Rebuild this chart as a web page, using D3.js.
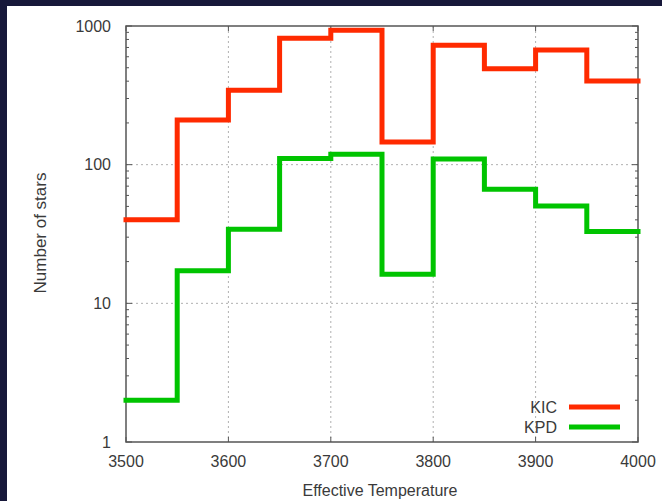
<!DOCTYPE html>
<html>
<head>
<meta charset="utf-8">
<script src="https://cdn.jsdelivr.net/npm/d3@7"></script>
<style>
body { margin: 0; background: #16183a; }
svg { display: block; }
</style>
</head>
<body>
<svg id="chart" width="662" height="501"></svg>
<script>
// histogram bins (left edges, K) and counts
var binStarts = [3500, 3550, 3600, 3650, 3700, 3750, 3800, 3850, 3900, 3950];
var binEnd = 4000;
var kicCounts = [40, 210, 344, 815, 931, 146, 725, 492, 671, 401];
var kpdCounts = [2.0, 17.2, 34.2, 111, 119, 16.2, 110, 66.4, 50.3, 32.9];
var xTicks = [3500, 3600, 3700, 3800, 3900, 4000];
var yTicks = [1, 10, 100, 1000];
var seriesNames = ["KIC", "KPD"];
var seriesColors = ["#ff2a00", "#00c400"];

var svg = d3.select("#chart");
var margin = {top: 26, right: 24, bottom: 59, left: 126};
var width = 662 - margin.left - margin.right,
    height = 501 - margin.top - margin.bottom;

// dark backdrop + white panel
svg.append("rect").attr("width", 662).attr("height", 501).attr("fill", "#17183a");
svg.append("rect").attr("x", 7).attr("y", 6).attr("width", 655).attr("height", 495).attr("fill", "#fff");

var g = svg.append("g").attr("transform", "translate(" + margin.left + "," + margin.top + ")");

var x = d3.scaleLinear().domain([3500, 4000]).range([0, width]);
var y = d3.scaleLog().domain([1, 1000]).range([height, 0]);

// gridlines
g.append("g").selectAll("line")
    .data(xTicks.slice(1, -1)).enter().append("line")
    .attr("x1", function(d) { return x(d); }).attr("x2", function(d) { return x(d); })
    .attr("y1", 0).attr("y2", height)
    .attr("stroke", "#b0b0b0").attr("stroke-dasharray", "2,3");
g.append("g").selectAll("line")
    .data(yTicks.slice(1, -1)).enter().append("line")
    .attr("x1", 0).attr("x2", width)
    .attr("y1", function(d) { return y(d); }).attr("y2", function(d) { return y(d); })
    .attr("stroke", "#b0b0b0").attr("stroke-dasharray", "2,3");

// minor y ticks (2..9 in each decade)
var minor = [];
[1, 10, 100].forEach(function(dec) {
    for (var k = 2; k <= 9; ++k) minor.push(dec * k);
});

var axisColor = "#555";
var ticks = g.append("g").attr("stroke", axisColor).attr("stroke-width", 1);
ticks.selectAll(".yl").data(yTicks).enter().append("line")
    .attr("x1", 0).attr("x2", 6)
    .attr("y1", function(d) { return y(d); }).attr("y2", function(d) { return y(d); });
ticks.selectAll(".yr").data(yTicks).enter().append("line")
    .attr("x1", width - 6).attr("x2", width)
    .attr("y1", function(d) { return y(d); }).attr("y2", function(d) { return y(d); });
ticks.selectAll(".ml").data(minor).enter().append("line")
    .attr("x1", 0).attr("x2", 3)
    .attr("y1", function(d) { return y(d); }).attr("y2", function(d) { return y(d); });
ticks.selectAll(".mr").data(minor).enter().append("line")
    .attr("x1", width - 3).attr("x2", width)
    .attr("y1", function(d) { return y(d); }).attr("y2", function(d) { return y(d); });
ticks.selectAll(".xb").data(xTicks).enter().append("line")
    .attr("x1", function(d) { return x(d); }).attr("x2", function(d) { return x(d); })
    .attr("y1", height).attr("y2", height - 5);
ticks.selectAll(".xt").data(xTicks).enter().append("line")
    .attr("x1", function(d) { return x(d); }).attr("x2", function(d) { return x(d); })
    .attr("y1", 0).attr("y2", 5);

// frame
g.append("rect").attr("width", width).attr("height", height)
    .attr("fill", "none").attr("stroke", axisColor).attr("stroke-width", 1.5);

// tick labels
var labelFont = "'Liberation Sans', Arial, sans-serif";
var textColor = "#3a3a3a";
g.append("g").selectAll("text").data(xTicks).enter().append("text")
    .attr("x", function(d) { return x(d); }).attr("y", height + 25)
    .attr("text-anchor", "middle").attr("font-family", labelFont)
    .attr("font-size", 16).attr("fill", textColor)
    .text(function(d) { return d; });
g.append("g").selectAll("text").data(yTicks).enter().append("text")
    .attr("x", -15).attr("y", function(d) { return y(d); }).attr("dy", "0.35em")
    .attr("text-anchor", "end").attr("font-family", labelFont)
    .attr("font-size", 16).attr("fill", textColor)
    .text(function(d) { return d; });

// axis titles
svg.append("text").attr("x", 380).attr("y", 496)
    .attr("text-anchor", "middle").attr("font-family", labelFont)
    .attr("font-size", 16).attr("fill", textColor)
    .text("Effective Temperature");
svg.append("text").attr("transform", "translate(46,233) rotate(-90)")
    .attr("text-anchor", "middle").attr("font-family", labelFont)
    .attr("font-size", 17).attr("fill", textColor)
    .text("Number of stars");

// step lines
var line = d3.line()
    .x(function(d) { return x(d[0]); })
    .y(function(d) { return y(d[1]); })
    .curve(d3.curveStepAfter);

[kicCounts, kpdCounts].forEach(function(vals, i) {
    var pts = binStarts.map(function(b, j) { return [b, vals[j]]; });
    pts.push([binEnd, vals[vals.length - 1]]);
    g.append("path").datum(pts)
        .attr("d", line)
        .attr("fill", "none")
        .attr("stroke", seriesColors[i])
        .attr("stroke-width", 5)
        .attr("stroke-linecap", "square")
        .attr("stroke-linejoin", "miter");
});

// legend
var legend = g.append("g").selectAll("g").data(seriesNames).enter().append("g")
    .attr("transform", function(d, i) { return "translate(0," + (381 + i * 20) + ")"; });
legend.append("text")
    .attr("x", 431).attr("dy", "0.35em")
    .attr("text-anchor", "end").attr("font-family", labelFont)
    .attr("font-size", 16).attr("fill", textColor)
    .text(function(d) { return d; });
legend.append("line")
    .attr("x1", 443).attr("x2", 494)
    .attr("stroke", function(d, i) { return seriesColors[i]; })
    .attr("stroke-width", 5);
</script>
</body>
</html>
